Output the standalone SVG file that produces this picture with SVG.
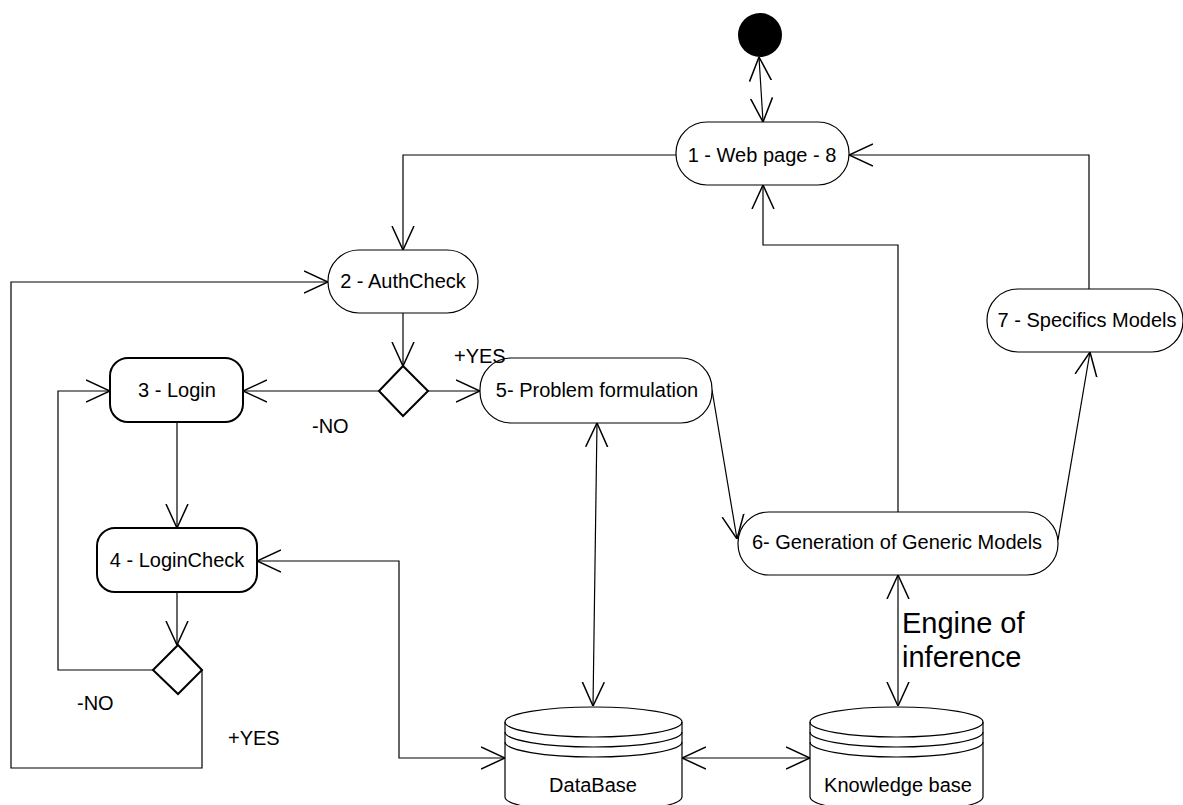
<svg xmlns="http://www.w3.org/2000/svg" width="1183" height="805" viewBox="0 0 1183 805">
<style>
text{font-family:"Liberation Sans",Arial,sans-serif;font-size:20px;fill:#000}
.n{text-anchor:middle}
.box{fill:#fff;stroke:#000;stroke-width:1.2}
.box2{fill:#fff;stroke:#000;stroke-width:2}
.dia{fill:#fff;stroke:#000;stroke-width:2}
.c{fill:none;stroke:#000;stroke-width:1.2}
.e{marker-end:url(#arr)}
.b{marker-start:url(#arr);marker-end:url(#arr)}
.cyl{fill:#fff;stroke:#000;stroke-width:1.2}
.big{font-size:29px}
</style>
<defs>
<marker id="arr" viewBox="0 0 24 24" refX="24" refY="12" markerWidth="24" markerHeight="24" markerUnits="userSpaceOnUse" orient="auto-start-reverse">
<path d="M0,1 L24,12 L0,23" fill="none" stroke="#000" stroke-width="1.5"/>
</marker>
</defs>
<rect width="1183" height="805" fill="#fff"/>
<g id="connectors">
<path class="c b" d="M759,57 L763,122"/>
<path class="c e" d="M676,155 H403 V250"/>
<path class="c e" d="M1089,289 V155 H849"/>
<path class="c e" d="M898,512 V245 H763 V185"/>
<path class="c e" d="M403,313 V366"/>
<path class="c e" d="M379,391 H243"/>
<path class="c e" d="M428,391 H480"/>
<path class="c e" d="M712,390 L737,539"/>
<path class="c e" d="M1058,540 L1090,352"/>
<path class="c e" d="M177,422 V528"/>
<path class="c e" d="M177,592 V645"/>
<path class="c e" d="M153,670 H58 V391 H110"/>
<path class="c e" d="M202,670 V768 H11 V282 H328"/>
<path class="c b" d="M257,561 H399 V758 H505"/>
<path class="c b" d="M597,423 L593,706"/>
<path class="c b" d="M682,758 H810"/>
<path class="c b" d="M898,575 V706"/>
</g>
<g id="start"><circle cx="760" cy="35" r="22" fill="#000"/></g>
<g id="node1"><rect class="box" x="676" y="122" width="173" height="63" rx="31"/><text class="n" x="762" y="162">1 - Web page - 8</text></g>
<g id="node2"><rect class="box" x="328" y="250" width="150" height="63" rx="31"/><text class="n" x="403" y="288">2 - AuthCheck</text></g>
<g id="node3"><rect class="box2" x="110" y="358" width="133" height="64" rx="18"/><text class="n" x="177" y="397">3 - Login</text></g>
<g id="node4"><rect class="box2" x="97" y="528" width="160" height="64" rx="18"/><text class="n" x="177" y="567">4 - LoginCheck</text></g>
<g id="node5"><rect class="box" x="480" y="358" width="232" height="65" rx="31"/><text class="n" x="597" y="397">5- Problem formulation</text></g>
<g id="node6"><rect class="box" x="738" y="512" width="320" height="63" rx="31"/><text class="n" x="897" y="549">6- Generation of Generic Models</text></g>
<g id="node7"><rect class="box" x="987" y="289" width="196" height="63" rx="31"/><text class="n" x="1087" y="327">7 - Specifics Models</text></g>
<g id="decision1"><polygon class="dia" points="403,366 428,391 403,416 379,391"/></g>
<g id="decision2"><polygon class="dia" points="178,645 202,670 178,694 153,670"/></g>
<g id="database">
<path class="cyl" d="M505,722 A88.5,15 0 0 1 682,722 V797 A88.5,15 0 0 1 505,797 Z"/>
<path class="c" d="M505,722 A88.5,15 0 0 0 682,722 M505,732 A88.5,15 0 0 0 682,732 M505,742 A88.5,15 0 0 0 682,742"/>
<text class="n" x="593" y="792">DataBase</text>
</g>
<g id="knowledgebase">
<path class="cyl" d="M810,722 A86.5,15 0 0 1 983,722 V797 A86.5,15 0 0 1 810,797 Z"/>
<path class="c" d="M810,722 A86.5,15 0 0 0 983,722 M810,732 A86.5,15 0 0 0 983,732 M810,742 A86.5,15 0 0 0 983,742"/>
<text class="n" x="898" y="792">Knowledge base</text>
</g>
<g id="labels">
<text x="454" y="363">+YES</text>
<text x="312" y="433">-NO</text>
<text x="77" y="710">-NO</text>
<text x="228" y="745">+YES</text>
<text class="big" x="902" y="633">Engine of</text>
<text class="big" x="902" y="667">inference</text>
</g>
</svg>
